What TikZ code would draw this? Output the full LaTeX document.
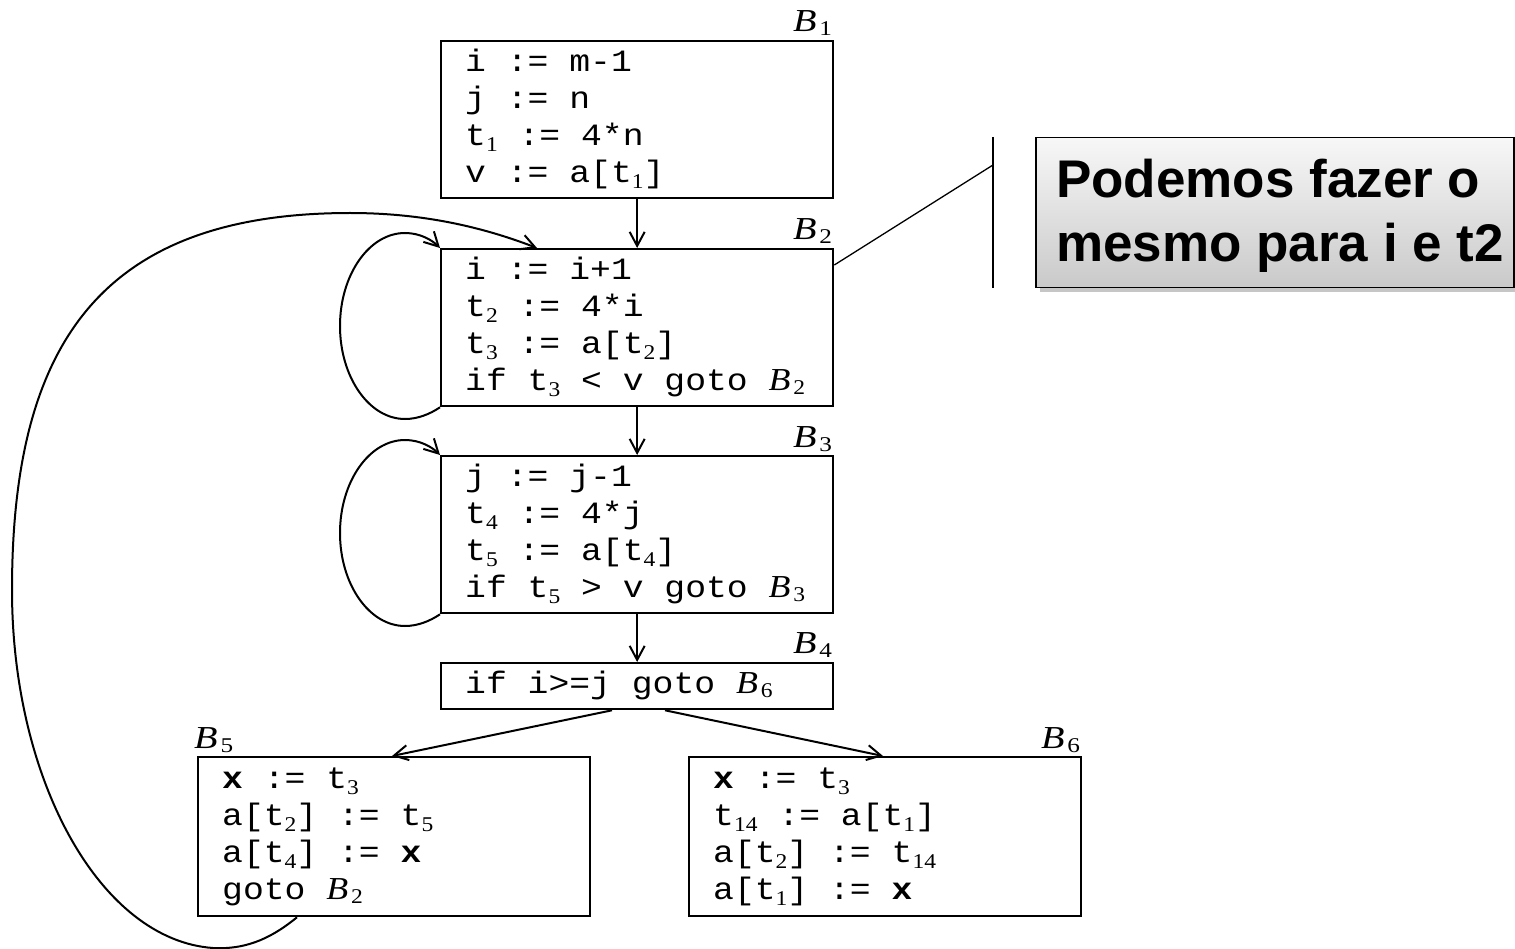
\documentclass[tikz,border=0pt]{standalone}
\usepackage{fontspec}
\setmainfont{Liberation Serif}
\newfontfamily\codefont{Liberation Mono}
\newfontfamily\calloutfont{Liberation Sans}
\usetikzlibrary{arrows.meta,shadows}
\newcommand\tsub[1]{\raisebox{-6pt}{\rmfamily\fontsize{21}{21}\selectfont\upshape #1}}
\newcommand\bin[1]{{\rmfamily\fontsize{32}{32}\selectfont\itshape B}\kern2.5pt\raisebox{-4pt}{\rmfamily\fontsize{21}{21}\selectfont\upshape #1}}
\newcommand\codelines[1]{\begin{tabular}{@{}l@{}}#1\end{tabular}}
\begin{document}
\begin{tikzpicture}[x=1pt,y=-1pt,
  blk/.style={draw, line width=2.3pt, anchor=north west, minimum width=392pt, inner sep=0pt, minimum height=157pt},
  codetxt/.style={anchor=west, inner sep=0pt, xscale=1.12, transform shape, font=\codefont\fontsize{31}{37}\selectfont},
  lbl/.style={inner sep=0pt, xscale=1.2, transform shape},
  arr/.style={line width=2pt, -{Straight Barb[length=14pt,width=15pt]}},
  thinln/.style={line width=1.3pt}]
\useasboundingbox (0,0) rectangle (1515,949);

% blocks
\node[blk] (b1) at (440,40) {};
\node[blk] (b2) at (440,248) {};
\node[blk] (b3) at (440,455) {};
\node[blk, minimum height=46pt] (b4) at (440,662) {};
\node[blk, minimum height=159pt] (b5) at (197,756) {};
\node[blk, minimum height=159pt] (b6) at (688,756) {};

% block contents
\coordinate (c1) at ([xshift=25pt]b1.west);
\coordinate (c2) at ([xshift=25pt]b2.west);
\coordinate (c3) at ([xshift=25pt]b3.west);
\coordinate (c4) at ([xshift=25pt]b4.west);
\coordinate (c5) at ([xshift=25pt]b5.west);
\coordinate (c6) at ([xshift=25pt]b6.west);
\node[codetxt] (t1) at (c1) {\codelines{i := m-1\\ j := n\\ t\tsub{1} := 4*n\\ v := a[t\tsub{1}]}};
\node[codetxt] (t2) at (c2) {\codelines{i := i+1\\ t\tsub{2} := 4*i\\ t\tsub{3} := a[t\tsub{2}]\\ if t\tsub{3} < v goto \bin{2}}};
\node[codetxt] (t3) at (c3) {\codelines{j := j-1\\ t\tsub{4} := 4*j\\ t\tsub{5} := a[t\tsub{4}]\\ if t\tsub{5} > v goto \bin{3}}};
\node[codetxt] (t4) at (c4) {\codelines{if i>=j goto \bin{6}}};
\node[codetxt] (t5) at (c5) {\codelines{\textbf{x} := t\tsub{3}\\ a[t\tsub{2}] := t\tsub{5}\\ a[t\tsub{4}] := \textbf{x}\\ goto \bin{2}}};
\node[codetxt] (t6) at (c6) {\codelines{\textbf{x} := t\tsub{3}\\ t\tsub{14} := a[t\tsub{1}]\\ a[t\tsub{2}] := t\tsub{14}\\ a[t\tsub{1}] := \textbf{x}}};

% block labels
\coordinate (p1) at ([xshift=-2pt,yshift=8pt]b1.north east);
\coordinate (p2) at ([xshift=-2pt,yshift=8pt]b2.north east);
\coordinate (p3) at ([xshift=-2pt,yshift=8pt]b3.north east);
\coordinate (p4) at ([xshift=-2pt,yshift=9pt]b4.north east);
\coordinate (p5) at ([xshift=-3pt,yshift=8pt]b5.north west);
\coordinate (p6) at ([xshift=-2pt,yshift=8pt]b6.north east);
\node[lbl, anchor=base east] (l1) at (p1) {\bin{1}};
\node[lbl, anchor=base east] (l2) at (p2) {\bin{2}};
\node[lbl, anchor=base east] (l3) at (p3) {\bin{3}};
\node[lbl, anchor=base east] (l4) at (p4) {\bin{4}};
\node[lbl, anchor=base west] (l5) at (p5) {\bin{5}};
\node[lbl, anchor=base east] (l6) at (p6) {\bin{6}};

% straight edges
\draw[arr] (b1.south) -- (b2.north);
\draw[arr] (b2.south) -- (b3.north);
\draw[arr] (b3.south) -- (b4.north);
\draw[arr] ([xshift=172pt]b4.south west) -- ([xshift=195pt]b5.north west);
\draw[arr] ([xshift=225pt]b4.south west) -- ([xshift=195pt]b6.north west);

% self loops
\draw[arr] (b2.south west) .. controls (430,414) and (418,419) .. (405,419)
  .. controls (369,419) and (340,377) .. (340,326)
  .. controls (340,275) and (369,233) .. (405,233)
  .. controls (420,233) and (432,240) .. (b2.north west);
\draw[arr] (b3.south west) .. controls (430,621) and (418,626) .. (405,626)
  .. controls (369,626) and (340,584) .. (340,533)
  .. controls (340,482) and (369,440) .. (405,440)
  .. controls (420,440) and (432,447) .. (b3.north west);

% back edge B5 -> B2
\draw[arr] ([xshift=100pt]b5.south west) .. controls (275,935) and (250,950) .. (213,948)
  .. controls (100,940) and (12,780) .. (12,590)
  .. controls (12,345) and (100,213) .. (350,213)
  .. controls (430,213) and (490,230) .. ([xshift=97pt]b2.north west);

% callout
\node[draw, line width=1.5pt, anchor=north west, minimum width=478pt, minimum height=150pt, inner sep=0pt,
  top color=gray!6, bottom color=gray!42,
  drop shadow={shadow xshift=4pt, shadow yshift=-4pt, opacity=0.45}] (note) at (1035,137) {};
\node[anchor=north west, inner sep=0pt, align=left,
  font=\calloutfont\bfseries\fontsize{53}{64}\selectfont] (notetxt) at (1056,159) {Podemos fazer o\\ mesmo para i e t2};
\coordinate (brk) at (993,165);
\draw[thinln] (993,137) -- (993,288);
\draw[thinln] (brk) -- ([yshift=-17pt]b2.north east);
\end{tikzpicture}
\end{document}
